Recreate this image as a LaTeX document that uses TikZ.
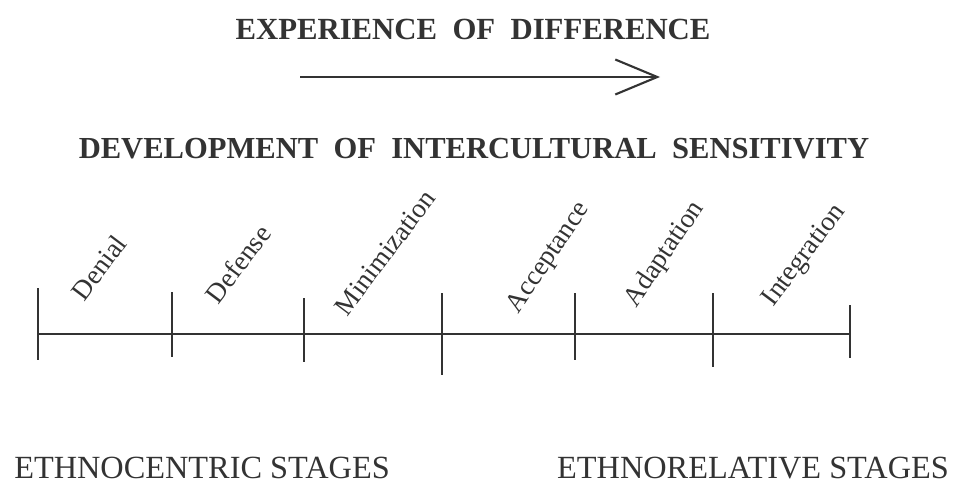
\documentclass[tikz,border=0pt]{standalone}
\usepackage{fontspec}
\setmainfont{Liberation Serif}
\usetikzlibrary{arrows.meta}

\begin{document}
\begin{tikzpicture}[x=0.02cm,y=-0.02cm,line width=1.2pt,color=black!80,
  stage/.style={rotate=53,anchor=base west,inner sep=0pt,font=\fontsize{15.5}{17}\selectfont},
  caption/.style={font=\fontsize{18.4}{21}\selectfont}]
\useasboundingbox (0,0) rectangle (956,483);
\node[font=\fontsize{17.5}{21}\selectfont\bfseries] (exp) at (473,29) {EXPERIENCE\ \ OF\ \ DIFFERENCE};
\coordinate (from) at (300,77);
\coordinate (to) at (660,77);
\draw[-{Straight Barb[length=0.84cm,width=0.7cm]}] (from) -- (to);
\node[font=\fontsize{17.4}{21}\selectfont\bfseries] (dev) at (474,149) {DEVELOPMENT\ \ OF\ \ INTERCULTURAL\ \ SENSITIVITY};
% scale with stage marks
\coordinate (left) at (38,334);
\coordinate (right) at (850,334);
\draw[line width=1.5pt] (left) -- (right);
\foreach \x/\t/\b in {38/288/360, 172/292/357, 304/298/362, 442/293/375, 575/293/360, 713/293/367, 850/305/358}
  \draw (\x,\t) -- (\x,\b);
\node[stage] (denial) at (84,303) {Denial};
\node[stage] (defense) at (218,306) {Defense};
\node[stage] (minim) at (347,318) {Minimization};
\node[stage,rotate=3] (accept) at (518,315) {Acceptance};
\node[stage,rotate=3] (adapt) at (636,309) {Adaptation};
\node[stage] (integ) at (773,308) {Integration};
\node[caption] (ethnocent) at (202,468) {ETHNOCENTRIC STAGES};
\node[caption] (ethnorel) at (753,468) {ETHNORELATIVE STAGES};
\end{tikzpicture}
\end{document}
